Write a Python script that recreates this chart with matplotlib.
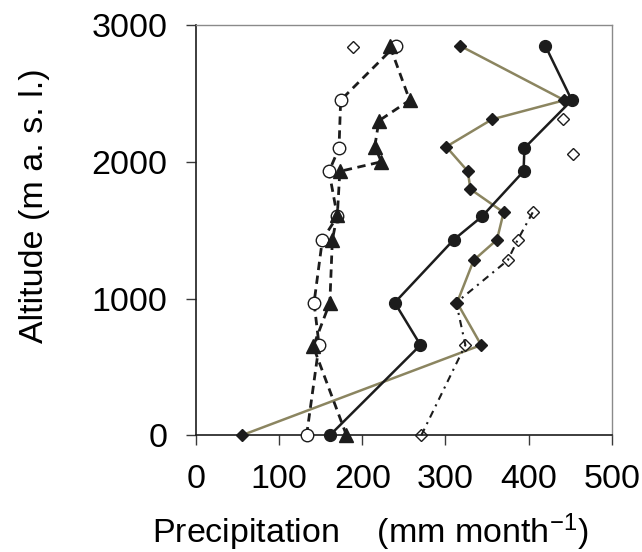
import matplotlib.pyplot as plt

plt.rcParams["font.family"] = ["Liberation Sans", "DejaVu Sans"]
plt.rcParams["mathtext.default"] = "regular"

# Precipitation profiles (mm month-1) against station altitude (m a.s.l.)
ALT_CIRCLE = [0, 660, 970, 1430, 1600, 1930, 2100, 2450, 2850]
PRECIP_CIRCLE = [161, 270, 239, 310, 344, 394, 395, 452, 420]

ALT_DIAMOND = [0, 660, 970, 1280, 1430, 1630, 1800, 1930, 2110, 2310, 2450, 2850]
PRECIP_DIAMOND = [55, 343, 314, 334, 362, 370, 330, 327, 301, 356, 443, 317]

ALT_OPEN_CIRCLE = [0, 660, 970, 1430, 1600, 1930, 2100, 2450, 2850]
PRECIP_OPEN_CIRCLE = [133, 148, 142, 152, 170, 160, 172, 174, 240]

ALT_TRIANGLE = [0, 650, 970, 1430, 1610, 1930, 2000, 2110, 2300, 2450, 2850]
PRECIP_TRIANGLE = [181, 141, 161, 164, 170, 173, 223, 215, 220, 257, 233]

ALT_OPEN_DIAMOND = [0, 660, 970, 1280, 1430, 1630]
PRECIP_OPEN_DIAMOND = [271, 324, 313, 375, 387, 405]

# open diamonds without a connecting line
ALT_OPEN_DIAMOND_EXTRA = [2060, 2310, 2840]
PRECIP_OPEN_DIAMOND_EXTRA = [453, 442, 189]

X_TICKS = [0, 100, 200, 300, 400, 500]
Y_TICKS = [0, 1000, 2000, 3000]

BLACK = "#1c1c1c"
OLIVE = "#8b8560"
FONT_SIZE = 24.5

fig = plt.figure(figsize=(6.42, 5.52), dpi=100)
ax = fig.add_axes([0.3053, 0.2114, 0.6475, 0.7433])

ax.plot(PRECIP_DIAMOND, ALT_DIAMOND, color=OLIVE, lw=1.8,
        marker="D", ms=6.5, mfc=BLACK, mec=BLACK, clip_on=False, zorder=3)
ax.plot(PRECIP_CIRCLE, ALT_CIRCLE, color=BLACK, lw=1.8,
        marker="o", ms=8.5, mfc=BLACK, mec=BLACK, clip_on=False, zorder=4)
ax.plot(PRECIP_OPEN_CIRCLE, ALT_OPEN_CIRCLE, color=BLACK, lw=2,
        ls=(0, (3, 2)), marker="o", ms=9, mfc="white", mec=BLACK, mew=1,
        clip_on=False, zorder=4)
ax.plot(PRECIP_TRIANGLE, ALT_TRIANGLE, color=BLACK, lw=2,
        ls=(0, (3, 2)), marker="^", ms=10, mfc=BLACK, mec=BLACK,
        clip_on=False, zorder=5)
ax.plot(PRECIP_OPEN_DIAMOND, ALT_OPEN_DIAMOND, color=BLACK, lw=1.5,
        ls=(0, (3.5, 2.5, 1, 2.5)), marker="D", ms=6, mfc="none", mec=BLACK,
        mew=1, clip_on=False, zorder=5)
ax.plot(PRECIP_OPEN_DIAMOND_EXTRA, ALT_OPEN_DIAMOND_EXTRA, ls="none",
        marker="D", ms=6, mfc="none", mec=BLACK, mew=1, clip_on=False, zorder=5)

ax.set_xlim(0, 500)
ax.set_ylim(0, 3000)
ax.set_xticks(X_TICKS)
ax.set_yticks(Y_TICKS)

for side in ["left", "bottom"]:
    ax.spines[side].set_color(BLACK)
    ax.spines[side].set_linewidth(1.2)
for side in ["top", "right"]:
    ax.spines[side].set_color("#8a8a8a")
    ax.spines[side].set_linewidth(1.0)

ax.tick_params(axis="both", direction="out", length=7.5, width=1,
               color="#3a3a3a", labelsize=FONT_SIZE, pad=13)

ax.set_xlabel("Precipitation    (mm month$^{-1}$)", fontsize=FONT_SIZE,
              ha="left", va="baseline")
ax.xaxis.set_label_coords(-0.105, -0.2625)
ax.set_ylabel("Altitude (m a. s. l.)", fontsize=FONT_SIZE,
              ha="left", va="bottom", rotation_mode="anchor")
ax.yaxis.set_label_coords(-0.352, 0.225)

fig.savefig("out.png", dpi=100)
